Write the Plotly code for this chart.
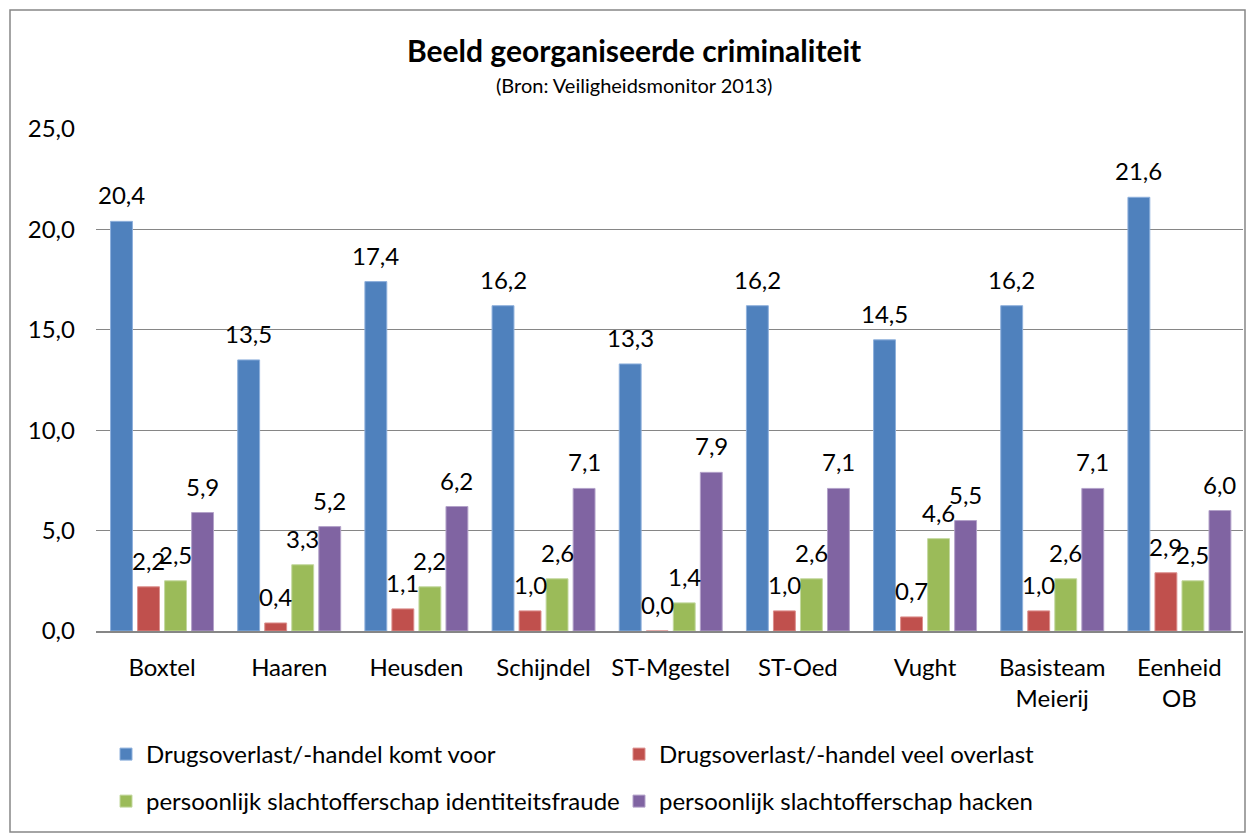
import plotly.graph_objects as go

categories = ["Boxtel", "Haaren", "Heusden", "Schijndel", "ST-Mgestel", "ST-Oed", "Vught",
              "Basisteam<br>Meierij", "Eenheid<br>OB"]
series_names = ["Drugsoverlast/-handel komt voor", "Drugsoverlast/-handel veel overlast",
                "persoonlijk slachtofferschap identiteitsfraude", "persoonlijk slachtofferschap hacken"]
drugs_komt_voor = [20.4, 13.5, 17.4, 16.2, 13.3, 16.2, 14.5, 16.2, 21.6]
drugs_veel_overlast = [2.2, 0.4, 1.1, 1.0, 0.0, 1.0, 0.7, 1.0, 2.9]
identiteitsfraude = [2.5, 3.3, 2.2, 2.6, 1.4, 2.6, 4.6, 2.6, 2.5]
hacken = [5.9, 5.2, 6.2, 7.1, 7.9, 7.1, 5.5, 7.1, 6.0]
y_ticks = [0, 5, 10, 15, 20, 25]

colors = ["#4F81BD", "#C0504D", "#9BBB59", "#8064A2"]
edge = ["#8EB0DC", "#DC8F8D", "#C3D89F", "#B3A2C9"]
series = [drugs_komt_voor, drugs_veel_overlast, identiteitsfraude, hacken]
legends = ["legend", "legend", "legend2", "legend2"]

FONT = "Lato"
W, H = 1247, 834
L, R, T, B = 96, 4, 129, 203
pw, ph = W - L - R, H - T - B
BARGAP = 0.15
NSER = len(series)
SLOT = (1 - BARGAP) / NSER

def px(x):
    return (x - L) / pw

def py(y):
    return (H - B - y) / ph

fig = go.Figure()
annotations = []
for k, (name, vals, c, e, lg) in enumerate(zip(series_names, series, colors, edge, legends)):
    fig.add_trace(go.Bar(
        x=categories, y=vals, name=name, legend=lg,
        marker=dict(color=c, line=dict(color=e, width=1)),
    ))
    for i, v in enumerate(vals):
        annotations.append(dict(
            x=i + (k - (NSER - 1) / 2) * SLOT, y=v, xref="x", yref="y",
            text=f"{v:.1f}".replace(".", ","), showarrow=False,
            xanchor="center", yanchor="bottom", yshift=10,
            font=dict(family=FONT, size=24, color="#000000"),
        ))

annotations += [
    dict(text="<b>Beeld georganiseerde criminaliteit</b>", x=px(634), y=py(50),
         xref="paper", yref="paper", showarrow=False,
         font=dict(family=FONT, size=30), xanchor="center", yanchor="middle"),
    dict(text="(Bron: Veiligheidsmonitor 2013)", x=px(634), y=py(85),
         xref="paper", yref="paper", showarrow=False,
         font=dict(family=FONT, size=20), xanchor="center", yanchor="middle"),
]

legend_style = dict(orientation="h", xanchor="left", yanchor="top",
                    entrywidth=468, entrywidthmode="pixels",
                    font=dict(family=FONT, size=24), bgcolor="rgba(0,0,0,0)")

fig.update_layout(
    width=W, height=H,
    margin=dict(l=L, r=R, t=T, b=B),
    paper_bgcolor="white", plot_bgcolor="white",
    font=dict(family=FONT, size=24, color="#000000"),
    separators=",.",
    barmode="group", bargap=BARGAP, bargroupgap=0.19,
    showlegend=True,
    legend=dict(x=px(106), y=py(732), **legend_style),
    legend2=dict(x=px(106), y=py(779), **legend_style),
    xaxis=dict(showgrid=False, showline=True, linecolor="#868686", linewidth=2,
               ticks="", tickfont=dict(family=FONT, size=24), ticklabelstandoff=14),
    yaxis=dict(range=[0, 25], tickvals=y_ticks, tickformat=".1f",
               showgrid=True, gridcolor="#868686", gridwidth=1,
               zeroline=False, showline=False, ticks="",
               tickfont=dict(family=FONT, size=24), ticklabelstandoff=20),
    annotations=annotations,
    shapes=[
        dict(type="rect", xref="paper", yref="paper",
             x0=px(10), x1=px(1245), y0=py(832), y1=py(10),
             line=dict(color="#868686", width=1.5), fillcolor="rgba(0,0,0,0)", layer="below"),
    ],
)

fig.write_html("out.html", config={"displayModeBar": False},
               post_script="document.body.style.margin='0';document.body.style.overflow='hidden';")
